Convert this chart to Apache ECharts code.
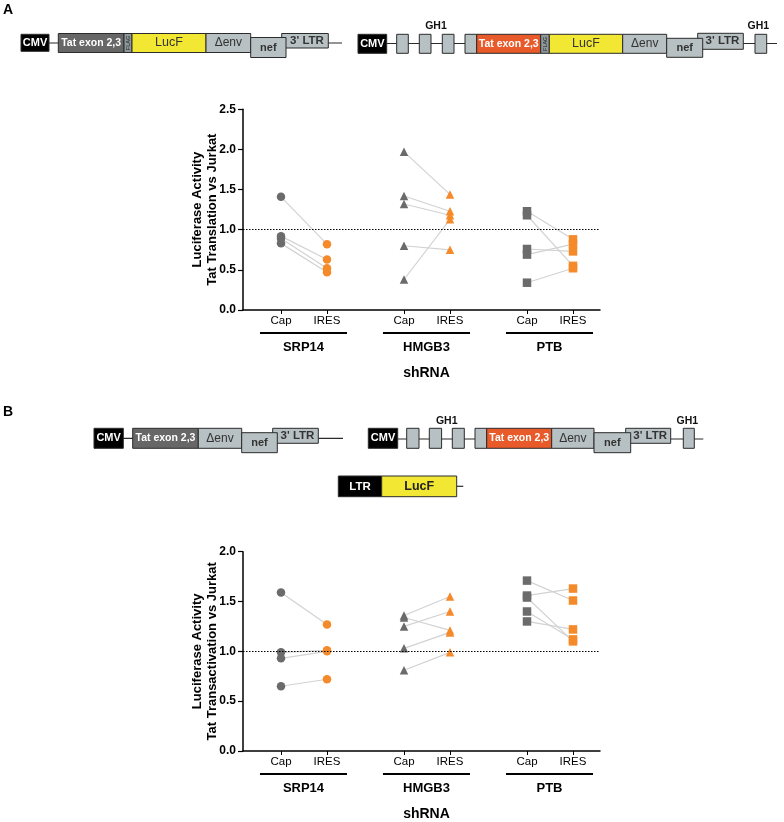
<!DOCTYPE html>
<html>
<head>
<meta charset="utf-8">
<script src="https://cdn.jsdelivr.net/npm/echarts@6/dist/echarts.min.js"></script>
<style>
  html, body { margin: 0; padding: 0; background: #fff; }
  #chart { width: 784px; height: 822px; }
</style>
</head>
<body>
<div id="chart"></div>
<script>
// ---------------- data ----------------
const groups = ['SRP14', 'HMGB3', 'PTB'];
const conditions = ['Cap', 'IRES'];
const groupSymbols = ['circle', 'triangle', 'rect'];
const yTicksA = [0, 0.5, 1, 1.5, 2, 2.5];
const yTicksB = [0, 0.5, 1, 1.5, 2];

// Panel A: Tat translation (paired Cap -> IRES)
const capA_SRP14  = [1.41, 0.92, 0.89, 0.83];
const iresA_SRP14 = [0.82, 0.63, 0.52, 0.47];
const capA_HMGB3  = [1.97, 1.42, 1.32, 0.80, 0.38];
const iresA_HMGB3 = [1.44, 1.23, 1.18, 0.75, 1.13];
const capA_PTB    = [1.23, 1.18, 0.76, 0.69, 0.34];
const iresA_PTB   = [0.88, 0.55, 0.73, 0.82, 0.52];

// Panel B: Tat transactivation
const capB_SRP14  = [1.59, 0.99, 0.93, 0.65];
const iresB_SRP14 = [1.27, 1.01, 1.00, 0.72];
const capB_HMGB3  = [1.36, 1.34, 1.25, 1.03, 0.81];
const iresB_HMGB3 = [1.55, 1.21, 1.40, 1.19, 0.99];
const capB_PTB    = [1.71, 1.56, 1.54, 1.40, 1.30];
const iresB_PTB   = [1.51, 1.63, 1.10, 1.12, 1.22];

const panelA = [[capA_SRP14, iresA_SRP14], [capA_HMGB3, iresA_HMGB3], [capA_PTB, iresA_PTB]];
const panelB = [[capB_SRP14, iresB_SRP14], [capB_HMGB3, iresB_HMGB3], [capB_PTB, iresB_PTB]];

// ---------------- layout / style ----------------
const FONT = '"Liberation Sans", Arial, Helvetica, sans-serif';
const GRAY = '#6b6b6b';
const ORANGE = '#f58a2a';
const PAIR_LINE = '#d2d2d2';
const GROUP_STEP = 2.674;         // distance between group Cap positions (x units)
const X_MIN = -0.826, X_MAX = 6.935;
const xPositions = [];
groups.forEach((g, gi) => conditions.forEach((c, ci) => xPositions.push(gi * GROUP_STEP + ci)));

function xLabel(v) {
  let best = 0, bd = 1e9;
  xPositions.forEach((p, i) => { const d = Math.abs(p - v); if (d < bd) { bd = d; best = i; } });
  return conditions[best % 2];
}

function makeAxes(gridIndex, yMax, yName) {
  const x = {
    gridIndex, type: 'value', min: X_MIN, max: X_MAX,
    axisLine: { show: true, onZero: false, lineStyle: { color: '#000', width: 1.5 } },
    axisTick: { show: true, customValues: xPositions, length: 4, lineStyle: { color: '#000', width: 1 } },
    axisLabel: { show: true, customValues: xPositions, formatter: (v) => xLabel(v), margin: 5,
                 color: '#000', fontSize: 11.5, fontFamily: FONT },
    splitLine: { show: false },
    name: 'shRNA', nameLocation: 'middle', nameGap: 56, nameMoveOverlap: false,
    nameTextStyle: { color: '#000', fontSize: 14, fontWeight: 'bold', fontFamily: FONT, padding: [0, 0, 0, 10] }
  };
  const y = {
    gridIndex, type: 'value', min: 0, max: yMax, interval: 0.5,
    axisLine: { show: true, onZero: false, lineStyle: { color: '#000', width: 1.5 } },
    axisTick: { show: true, length: 5, lineStyle: { color: '#000', width: 1.2 } },
    axisLabel: { formatter: (v) => v.toFixed(1), color: '#000', fontSize: 12, fontWeight: 'bold',
                 fontFamily: FONT, margin: 7 },
    splitLine: { show: false },
    name: yName, nameLocation: 'middle', nameRotate: 90, nameGap: 23, nameMoveOverlap: false,
    nameTextStyle: { color: '#000', fontSize: 13, fontWeight: 'bold', fontFamily: FONT, lineHeight: 15, align: 'center' }
  };
  return [x, y];
}

function makeSeries(panel, axisIndex) {
  const out = [];
  panel.forEach((pair, gi) => {
    const [cap, ires] = pair;
    const xc = gi * GROUP_STEP, xi = gi * GROUP_STEP + 1;
    cap.forEach((v, k) => {
      out.push({
        type: 'line', xAxisIndex: axisIndex, yAxisIndex: axisIndex, symbol: 'none', silent: true, z: 1,
        lineStyle: { color: PAIR_LINE, width: 1.2 },
        data: [[xc, v], [xi, ires[k]]]
      });
    });
  });
  panel.forEach((pair, gi) => {
    const [cap, ires] = pair;
    const xc = gi * GROUP_STEP, xi = gi * GROUP_STEP + 1;
    const sym = groupSymbols[gi];
    const size = 8.5;
    const capSeries = {
      type: 'scatter', xAxisIndex: axisIndex, yAxisIndex: axisIndex, symbol: sym, symbolSize: size, z: 3,
      itemStyle: { color: GRAY, opacity: 1 },
      data: cap.map(v => [xc, v])
    };
    if (gi === 0) {
      capSeries.markLine = {
        silent: true, symbol: 'none', label: { show: false },
        lineStyle: { color: '#000', width: 1, type: [1.5, 1.5] },
        data: [{ yAxis: 1 }]
      };
    }
    out.push(capSeries);
    out.push({
      type: 'scatter', xAxisIndex: axisIndex, yAxisIndex: axisIndex, symbol: sym, symbolSize: size, z: 3,
      itemStyle: { color: ORANGE, opacity: 1 },
      data: ires.map(v => [xi, v])
    });
  });
  // group underline + label, positioned through the axis scale
  out.push({
    type: 'custom', xAxisIndex: axisIndex, yAxisIndex: axisIndex, clip: false, silent: true, z: 2,
    data: groups.map((g, gi) => [gi * GROUP_STEP, 0]),
    renderItem: function (params, api) {
      const gi = params.dataIndex;
      const l = api.coord([gi * GROUP_STEP - 0.457, 0]);
      const r = api.coord([gi * GROUP_STEP + 1 + 0.435, 0]);
      return {
        type: 'group',
        children: [
          { type: 'rect', shape: { x: l[0], y: l[1] + 22, width: r[0] - l[0], height: 2 }, style: { fill: '#000' } },
          { type: 'text', style: { text: groups[gi], x: (l[0] + r[0]) / 2, y: l[1] + 37, align: 'center',
              verticalAlign: 'middle', fill: '#000', font: 'bold 13px ' + FONT } }
        ]
      };
    }
  });
  return out;
}

// ---------------- diagram graphics ----------------
const LGRAY = '#b7c0c2';
const G = [];
function box(x, y, w, h, fill, text, color, font, extra) {
  G.push({ type: 'rect', shape: { x, y, width: w, height: h },
           style: { fill, stroke: '#2b2b2b', lineWidth: 1 }, z: 10 });
  if (text) {
    G.push({ type: 'text', z: 11, style: { text, x: x + w / 2 + ((extra && extra.dx) || 0), y: y + h / 2 + ((extra && extra.dy) || 0),
             align: 'center', verticalAlign: 'middle', fill: color, font } });
  }
}
function hline(x1, x2, y) {
  G.push({ type: 'line', z: 9, shape: { x1, y1: y, x2, y2: y }, style: { stroke: '#2b2b2b', lineWidth: 1.2 } });
}
function label(text, x, y, font) {
  G.push({ type: 'text', z: 11, style: { text, x, y, align: 'center', verticalAlign: 'middle', fill: '#111', font } });
}
function flag(x, y, w, h) {
  G.push({ type: 'rect', shape: { x, y, width: w, height: h }, style: { fill: '#8e979a', stroke: '#2b2b2b', lineWidth: 1 }, z: 10 });
  G.push({ type: 'text', z: 11, x: x + w / 2, y: y + h / 2, rotation: Math.PI / 2,
           style: { text: 'FLAG', x: 0, y: 0, align: 'center', verticalAlign: 'middle', fill: '#222', font: '5.5px ' + FONT } });
}
const B11 = 'bold 11px ' + FONT;
const B105 = 'bold 10.5px ' + FONT;

// Panel letters
G.push({ type: 'text', z: 11, style: { text: 'A', x: 3, y: 10, verticalAlign: 'middle', fill: '#000', font: 'bold 14px ' + FONT } });
G.push({ type: 'text', z: 11, style: { text: 'B', x: 3, y: 412, verticalAlign: 'middle', fill: '#000', font: 'bold 14px ' + FONT } });

// A left construct
hline(49, 342, 43);
box(21, 34.3, 28, 17, '#000', 'CMV', '#fff', B11);
box(58.3, 33.5, 65.7, 19, '#676767', 'Tat exon 2,3', '#fff', B105);
flag(124, 33.5, 8, 19);
box(132, 33.5, 74, 19, '#f2e834', 'LucF', '#333', '12.5px ' + FONT);
box(206, 33.5, 44.7, 19, LGRAY, 'Δenv', '#333', '12px ' + FONT);
box(281.7, 33.5, 46.6, 14.5, LGRAY, "3' LTR", '#333', 'bold 11.5px ' + FONT, { dx: 2 });
box(250.7, 37.5, 35.3, 20, LGRAY, 'nef', '#333', B11);

// A right construct
hline(387, 777, 43.5);
box(358, 34.3, 28.7, 19, '#000', 'CMV', '#fff', B11);
box(396.7, 34.3, 11.6, 19, LGRAY);
box(419.3, 34.3, 11.7, 19, LGRAY);
box(442.3, 34.3, 11.7, 19, LGRAY);
box(465, 34.3, 11.7, 19, LGRAY);
label('GH1', 436, 26, 'bold 10.5px ' + FONT);
box(476.7, 34.3, 64, 19, '#e85a2a', 'Tat exon 2,3', '#fff', B105);
flag(540.7, 34.3, 8.6, 19);
box(549.3, 34.3, 73.4, 19, '#f2e834', 'LucF', '#333', '12.5px ' + FONT);
box(622.7, 34.3, 44, 19, LGRAY, 'Δenv', '#333', '12px ' + FONT);
box(697.7, 33.3, 45.6, 16, LGRAY, "3' LTR", '#333', 'bold 11.5px ' + FONT, { dx: 2 });
box(666.7, 38.3, 36, 19, LGRAY, 'nef', '#333', B11);
box(755, 34.3, 11.7, 19, LGRAY);
label('GH1', 758.3, 26, 'bold 10.5px ' + FONT);

// B left construct
hline(123, 343, 438.3);
box(94, 428.3, 29.3, 20, '#000', 'CMV', '#fff', B11);
box(132.7, 428.3, 65.6, 20, '#676767', 'Tat exon 2,3', '#fff', B105);
box(198.3, 428.3, 43.4, 20, LGRAY, 'Δenv', '#333', '12px ' + FONT);
box(272.7, 428.3, 45.6, 15, LGRAY, "3' LTR", '#333', 'bold 11.5px ' + FONT, { dx: 2 });
box(241.7, 432.7, 35.6, 20, LGRAY, 'nef', '#333', B11);

// B right construct
hline(397.7, 703.3, 439);
box(368.3, 428.3, 29.4, 20, '#000', 'CMV', '#fff', B11);
box(406.7, 428.3, 12.3, 20, LGRAY);
box(429.3, 428.3, 12.3, 20, LGRAY);
box(452.3, 428.3, 12, 20, LGRAY);
box(475, 428.3, 11.7, 20, LGRAY);
label('GH1', 446.7, 420.7, 'bold 10.5px ' + FONT);
box(486.7, 428.3, 65, 20, '#e85a2a', 'Tat exon 2,3', '#fff', B105);
box(551.7, 428.3, 42.3, 20, LGRAY, 'Δenv', '#333', '12px ' + FONT);
box(625.7, 428.3, 45, 15, LGRAY, "3' LTR", '#333', 'bold 11.5px ' + FONT, { dx: 2 });
box(594, 432.7, 36.7, 20, LGRAY, 'nef', '#333', B11);
box(683.3, 428.3, 11, 20, LGRAY);
label('GH1', 687.3, 420.7, 'bold 10.5px ' + FONT);

// B reporter
hline(456.7, 463.3, 486.3);
box(338.3, 476, 43.4, 20.7, '#000', 'LTR', '#fff', 'bold 11.5px ' + FONT);
box(381.7, 476, 75, 20.7, '#f2e834', 'LucF', '#222', 'bold 12.5px ' + FONT);

// ---------------- chart ----------------
const [xA, yA] = makeAxes(0, 2.5, 'Luciferase Activity\nTat Translation vs Jurkat');
const [xB, yB] = makeAxes(1, 2.0, 'Luciferase Activity\nTat Transactivation vs Jurkat');

const chart = echarts.init(document.getElementById('chart'), null, { renderer: 'canvas' });
chart.setOption({
  backgroundColor: '#fff',
  animation: false,
  textStyle: { fontFamily: FONT },
  grid: [
    { left: 243, top: 109.3, width: 357, height: 200.7 },
    { left: 243, top: 551.7, width: 357, height: 201 }
  ],
  xAxis: [xA, xB],
  yAxis: [yA, yB],
  series: makeSeries(panelA, 0).concat(makeSeries(panelB, 1)),
  graphic: { elements: G }
});
</script>
</body>
</html>
